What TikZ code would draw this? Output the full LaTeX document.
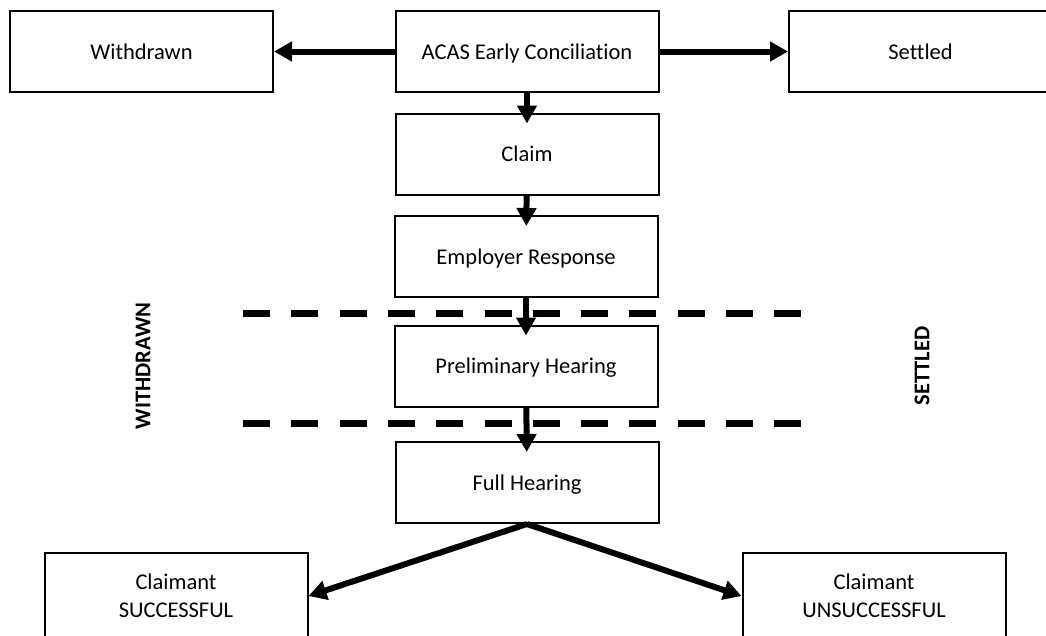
\documentclass[tikz,border=0pt]{standalone}
\usepackage{fontspec}
\setmainfont{Carlito}[Ligatures=NoCommon]
\usepackage{tikz}
\usetikzlibrary{arrows.meta}

\begin{document}
\begin{tikzpicture}[x=1pt,y=-1pt,>={Triangle[length=18pt,width=19pt]},
	stage/.style={draw,line width=2pt,minimum width=263pt,minimum height=81pt,inner sep=0pt,align=center,font=\fontsize{22.5}{27.5}\selectfont},
	oneline/.style={stage,text height=15pt,text depth=0pt},
	flow/.style={->,line width=6pt},
	cut/.style={line width=7pt,dash pattern=on 27pt off 21.3pt},
	side/.style={rotate=90,font=\fontsize{22.5}{27.5}\selectfont\bfseries}]
	\useasboundingbox (0,0) rectangle (1046,635);
	\clip (0,0) rectangle (1046,635);
	\node[oneline] (withdrawn) at (141.5,51.5) {Withdrawn};
	\node[oneline] (acas) at (527,51.5) {ACAS Early Conciliation};
	\node[oneline] (settled) at (920.5,51.5) {Settled};
	\node[oneline] (claim) at (527,154) {Claim};
	\node[oneline] (employer) at (526,256.5) {Employer Response};
	\node[oneline] (prelim) at (526,366) {Preliminary Hearing};
	\node[oneline] (full) at (527,482.5) {Full Hearing};
	\node[stage,minimum height=86pt] (success) at (176,596) {Claimant\\SUCCESSFUL};
	\node[stage,minimum height=86pt] (unsuccess) at (874,596) {Claimant\\UNSUCCESSFUL};
	\node[side] (leftlabel) at (143,366) {WITHDRAWN};
	\node[side] (rightlabel) at (922,366) {SETTLED};
	\draw[cut] (243,313) -- (803,313);
	\draw[cut] (243,423) -- (803,423);
	\draw[flow] (acas) -- (withdrawn);
	\draw[flow] (acas) -- (settled);
	\draw[flow,shorten >=-11pt] (acas) -- (claim);
	\draw[flow,shorten >=-11pt] (claim) -- (employer);
	\draw[flow,shorten >=-11pt] (employer) -- (prelim);
	\draw[flow,shorten >=-11pt] (prelim) -- (full);
	\draw[flow] (full.south) -- (success.east);
	\draw[flow] (full.south) -- (unsuccess.west);
\end{tikzpicture}
\end{document}
